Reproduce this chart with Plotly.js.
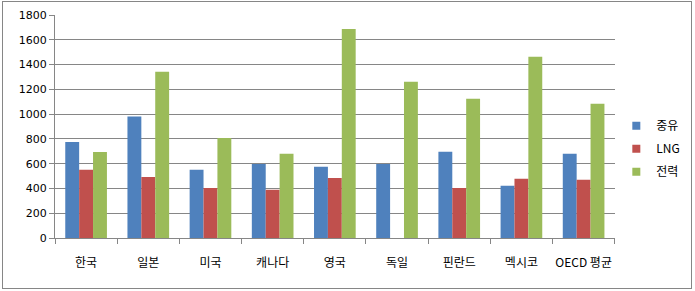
<!DOCTYPE html>
<html><head><meta charset="utf-8">
<script src="https://cdn.plot.ly/plotly-3.0.1.min.js"></script>
<style>
html,body{margin:0;padding:0;background:#fff;}
#wrap{position:relative;width:695px;height:291px;}
#chart{width:695px;height:291px;}
#frame{position:absolute;left:2px;top:1px;width:688px;height:286px;border:1px solid #868686;pointer-events:none;}
</style></head>
<body>
<div id="wrap"><div id="chart"></div><div id="frame"></div></div>
<script>
const categories = ["한국","일본","미국","캐나다","영국","독일","핀란드","멕시코","OECD 평균"];
const seriesNames = ["중유","LNG","전력"];
const heavyOil = [775, 980, 550, 597, 575, 597, 697, 422, 680];
const lng = [551, 492, 403, 390, 484, null, 403, 479, 471];
const electricity = [694, 1342, 807, 680, 1687, 1262, 1124, 1463, 1084];
const yTicks = [0,200,400,600,800,1000,1200,1400,1600,1800];
const colors = ["#4F81BD","#C0504D","#9BBB59"];
const values = [heavyOil, lng, electricity];

const traces = values.map((v,i)=>({
  type:"bar", x:categories, y:v, name:seriesNames[i],
  marker:{color:colors[i]}, showlegend:false
}));
// legend-only entries with small square keys
seriesNames.forEach((n,i)=>traces.push({
  type:"scatter", mode:"markers", x:[null], y:[null], name:n,
  marker:{symbol:"square", size:8, color:colors[i]}, legendgroup:"g"+i, showlegend:true
}));

const layout = {
  width:695, height:291,
  margin:{l:55, r:10, t:15, b:53},
  paper_bgcolor:"#fff", plot_bgcolor:"#fff",
  barmode:"group", bargap:0.33, bargroupgap:0,
  font:{family:"Noto Sans CJK KR, DejaVu Sans, sans-serif", size:12, color:"#000"},
  xaxis:{
    type:"category", domain:[0, 0.8984], showline:true, linecolor:"#868686", linewidth:1,
    ticks:"outside", tickson:"boundaries", ticklen:5, tickcolor:"#868686",
    tickangle:0, ticklabelstandoff:14,
    tickfont:{family:"Noto Sans CJK KR, sans-serif", size:12, color:"#000"},
    showgrid:false
  },
  yaxis:{
    range:[0,1800], tickvals:yTicks, showline:true, linecolor:"#868686", linewidth:1,
    ticks:"outside", ticklen:5, tickcolor:"#868686",
    gridcolor:"#868686", gridwidth:1, zeroline:false,
    tickfont:{family:"DejaVu Sans, sans-serif", size:11, color:"#000"}
  },
  legend:{
    x:0.901, xanchor:"left", y:0.40, yanchor:"middle",
    font:{family:"Noto Sans CJK KR, sans-serif", size:12, color:"#000"},
    tracegroupgap:4, itemwidth:30, bgcolor:"rgba(0,0,0,0)"
  },
  showlegend:true
};
Plotly.newPlot("chart", traces, layout, {displayModeBar:false, staticPlot:true});
</script>
</body></html>
